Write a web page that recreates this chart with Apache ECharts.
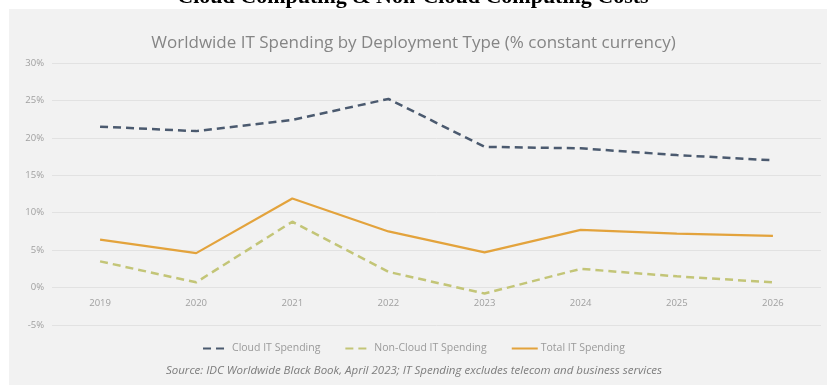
<!DOCTYPE html>
<html>
<head>
<meta charset="utf-8">
<script src="https://cdn.jsdelivr.net/npm/echarts@6/dist/echarts.min.js"></script>
<style>
  html, body { margin: 0; padding: 0; background: #fff; }
  #chart { width: 827px; height: 385px; }
</style>
</head>
<body>
<div id="chart"></div>
<script>
// values (% change, constant currency)
var years = ["2019", "2020", "2021", "2022", "2023", "2024", "2025", "2026"];
var cloudSpending = [21.5, 20.9, 22.4, 25.2, 18.8, 18.6, 17.7, 17.0];
var nonCloudSpending = [3.5, 0.7, 8.8, 2.1, -0.8, 2.5, 1.5, 0.7];
var totalSpending = [6.4, 4.6, 11.9, 7.5, 4.7, 7.7, 7.2, 6.9];

var chartDom = document.getElementById("chart");
var myChart = echarts.init(chartDom);
var option;

var labelColor = "#a0a0a0";

option = {
  backgroundColor: "#ffffff",
  animation: false,
  graphic: [
    {
      type: "rect",
      z: -10,
      shape: { x: 9, y: 9, width: 818, height: 376 },
      style: { fill: "#f2f2f2" }
    },
    {
      type: "text",
      z: 10,
      x: 413,
      y: 8,
      style: {
        text: "Cloud Computing & Non-Cloud Computing Costs",
        font: 'bold 22px "Liberation Serif"',
        fill: "#000000",
        align: "center",
        verticalAlign: "bottom"
      }
    },
    {
      type: "text",
      x: 414,
      y: 371,
      style: {
        text: "Source: IDC Worldwide Black Book, April 2023; IT Spending excludes telecom and business services",
        font: 'italic 11.5px "Open Sans"',
        fill: "#7c7c7c",
        align: "center",
        verticalAlign: "middle"
      }
    }
  ],
  title: {
    text: "Worldwide IT Spending by Deployment Type (% constant currency)",
    left: "center",
    top: 30,
    textStyle: {
      fontFamily: "Open Sans",
      fontWeight: "normal",
      fontSize: 17,
      color: "#858585"
    }
  },
  legend: {
    top: 338,
    left: "center",
    itemGap: 24,
    itemWidth: 26,
    itemHeight: 10,
    itemStyle: { opacity: 0 },
    textStyle: { fontFamily: "Open Sans", fontSize: 10.5, color: "#9a9a9a", padding: [0, 0, 0, -2] },
    data: ["Cloud IT Spending", "Non-Cloud IT Spending", "Total IT Spending"]
  },
  grid: { left: 52, right: 6, top: 63, bottom: 60, containLabel: false },
  xAxis: {
    type: "category",
    data: years,
    boundaryGap: true,
    position: "bottom",
    offset: -37.4,
    axisLine: { show: false, onZero: false },
    axisTick: { show: false },
    axisLabel: {
      margin: 11,
      fontFamily: "Open Sans",
      fontSize: 9.5,
      color: labelColor
    }
  },
  yAxis: {
    type: "value",
    min: -5,
    max: 30,
    interval: 5,
    axisLine: { show: false },
    axisTick: { show: false },
    splitLine: { lineStyle: { color: "#e2e2e2", width: 1 } },
    axisLabel: {
      formatter: "{value}%",
      margin: 8,
      fontFamily: "Open Sans",
      fontSize: 9.5,
      color: labelColor
    }
  },
  series: [
    {
      name: "Cloud IT Spending",
      type: "line",
      data: cloudSpending,
      showSymbol: false,
      symbol: "none",
      itemStyle: { color: "#4b5a6f" },
      lineStyle: { color: "#4b5a6f", width: 2.5, type: [8, 5] }
    },
    {
      name: "Non-Cloud IT Spending",
      type: "line",
      data: nonCloudSpending,
      showSymbol: false,
      symbol: "none",
      itemStyle: { color: "#c3c577" },
      lineStyle: { color: "#c3c577", width: 2.5, type: [8, 5] }
    },
    {
      name: "Total IT Spending",
      type: "line",
      data: totalSpending,
      showSymbol: false,
      symbol: "none",
      itemStyle: { color: "#e3a33c" },
      lineStyle: { color: "#e3a33c", width: 2.2 }
    }
  ]
};

myChart.setOption(option);
</script>
</body>
</html>
